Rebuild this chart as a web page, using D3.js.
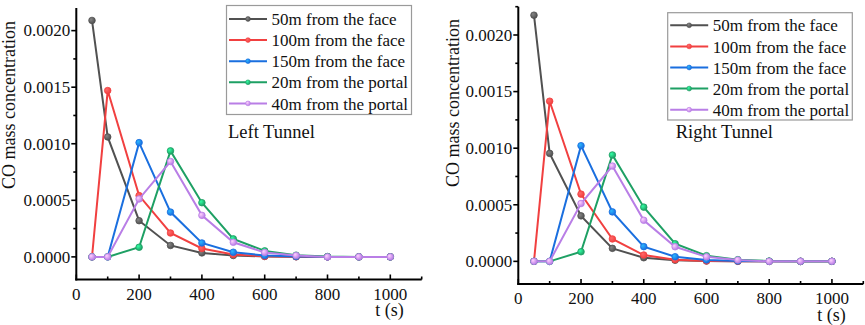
<!DOCTYPE html>
<html>
<head>
<meta charset="utf-8">
<script src="https://cdn.jsdelivr.net/npm/d3@7/dist/d3.min.js"></script>
<style>
  body { margin: 0; background: #fff; }
  svg { display: block; }
  svg text { font-family: "Liberation Serif", "Times New Roman", "DejaVu Serif", serif; fill: #111; }
</style>
</head>
<body>
<svg id="chart" width="865" height="325"></svg>
<script>
// sampling times (s)
var times = [50, 100, 200, 300, 400, 500, 600, 700, 800, 900, 1000]

var seriesNames = ["50m from the face", "100m from the face", "150m from the face", "20m from the portal", "40m from the portal"]
var seriesColors = ["#515151", "#f14040", "#1a6fdf", "#1ea064", "#b97ee6"]

// left tunnel
var face50L = [0.00209, 0.00106, 0.00032, 0.000101, 0.000035, 0.000012, 0.000004, 0.000001, 0, 0, 0]
var face100L = [0, 0.00147, 0.000542, 0.000211, 0.000074, 0.000021, 0.000005, 0.000001, 0, 0, 0]
var face150L = [0, 0, 0.00101, 0.000396, 0.000123, 0.000041, 0.000012, 0.000003, 0, 0, 0]
var portal20L = [0, 0, 0.000085, 0.000937, 0.000479, 0.000159, 0.000053, 0.000015, 0.000003, 0, 0]
var portal40L = [0, 0, 0.000512, 0.000843, 0.000367, 0.000129, 0.000039, 0.000012, 0, 0, 0]

// right tunnel
var face50R = [0.002175, 0.000954, 0.000402, 0.000115, 0.000032, 0.00001, 0.000003, 0.000001, 0, 0, 0]
var face100R = [0, 0.001415, 0.000594, 0.000198, 0.000056, 0.000015, 0.000004, 0.000001, 0, 0, 0]
var face150R = [0, 0, 0.001022, 0.000437, 0.00013, 0.000041, 0.000012, 0.000003, 0, 0, 0]
var portal20R = [0, 0, 0.000085, 0.00094, 0.000479, 0.000156, 0.00005, 0.000015, 0.000003, 0, 0]
var portal40R = [0, 0, 0.000511, 0.000842, 0.000363, 0.000129, 0.00004, 0.000012, 0, 0, 0]

var xTicks = [0, 200, 400, 600, 800, 1000]
var yTicks = [0, 0.0005, 0.001, 0.0015, 0.002]

var svg = d3.select("#chart")

// little shaded balls for the markers
var defs = svg.append("defs")
seriesColors.forEach(function(c, i) {
    var g = defs.append("radialGradient").attr("id", "ball" + i)
        .attr("cx", "35%").attr("cy", "35%").attr("r", "65%")
    g.append("stop").attr("offset", "0%").attr("stop-color", d3.color(c).brighter(1.4))
    g.append("stop").attr("offset", "100%").attr("stop-color", c)
})

function panel(opts) {

    var g = svg.append("g")

    var x = d3.scaleLinear().domain([0, 1100]).range([opts.left, opts.right])
    var y = d3.scaleLinear().domain([-0.0002, opts.yMax]).range([opts.bottom, opts.top])

    // x axis, ticks point inwards
    var xAxis = g.append("g").attr("transform", "translate(0," + opts.bottom + ")")
    xAxis.append("line").attr("x1", opts.left - 1).attr("x2", opts.right)
        .attr("stroke", "#000").attr("stroke-width", 2)
    d3.range(0, 1101, 100).forEach(function(t) {
        var major = t % 200 === 0
        xAxis.append("line").attr("x1", x(t)).attr("x2", x(t))
            .attr("y1", 0).attr("y2", major ? -5 : -3)
            .attr("stroke", "#000").attr("stroke-width", 1.6)
    })
    xAxis.selectAll("text.tick").data(xTicks).join("text")
        .attr("class", "tick")
        .attr("x", d => x(d)).attr("y", 20)
        .attr("text-anchor", "middle").attr("font-size", 17)
        .text(d => d)

    // y axis, ticks point outwards
    var yAxis = g.append("g").attr("transform", "translate(" + opts.left + ",0)")
    yAxis.append("line").attr("y1", opts.top).attr("y2", opts.bottom + 1)
        .attr("stroke", "#000").attr("stroke-width", 2)
    // minor every 0.00025, majors on the 0.0005 steps
    d3.range(0, 10).forEach(function(k) {
        var v = k * 0.00025
        if (v > opts.yMax + 1e-9) return
        var major = k % 2 === 0
        yAxis.append("line").attr("x1", 0).attr("x2", major ? -5 : -3)
            .attr("y1", y(v)).attr("y2", y(v))
            .attr("stroke", "#000").attr("stroke-width", 1.6)
    })
    yAxis.selectAll("text.tick").data(yTicks).join("text")
        .attr("class", "tick")
        .attr("x", -6).attr("y", d => y(d)).attr("dy", "0.34em")
        .attr("text-anchor", "end").attr("font-size", 17)
        .text(d => d.toFixed(4))

    // axis titles
    g.append("text")
        .attr("transform", "translate(" + opts.yTitleX + "," + opts.yTitleY + ") rotate(-90)")
        .attr("text-anchor", "middle").attr("font-size", 18)
        .text("CO mass concentration")

    g.append("text")
        .attr("x", opts.tTitleX).attr("y", opts.tTitleY)
        .attr("text-anchor", "middle").attr("font-size", 18)
        .text("t (s)")

    // series
    var line = d3.line().x(d => x(d[0])).y(d => y(d[1]))

    opts.series.forEach(function(vals, i) {
        var pts = times.map((t, j) => [t, vals[j]])
        g.append("path").datum(pts)
            .attr("d", line)
            .attr("fill", "none")
            .attr("stroke", seriesColors[i])
            .attr("stroke-width", 2)
        g.selectAll("circle.s" + i).data(pts).join("circle")
            .attr("class", "s" + i)
            .attr("cx", d => x(d[0])).attr("cy", d => y(d[1]))
            .attr("r", 3.3)
            .attr("fill", "url(#ball" + i + ")")
            .attr("stroke", seriesColors[i]).attr("stroke-width", 0.8)
    })

    // legend
    var lg = g.append("g")
    lg.append("rect")
        .attr("x", opts.legX).attr("y", opts.legY)
        .attr("width", opts.legW).attr("height", opts.legH)
        .attr("fill", "#fff").attr("stroke", "#9a9a9a").attr("stroke-width", 1.2)

    seriesNames.forEach(function(name, i) {
        var cy = opts.legRow0 + i * 21.1
        lg.append("line")
            .attr("x1", opts.legX + 2.5).attr("x2", opts.legX + 40.5)
            .attr("y1", cy).attr("y2", cy)
            .attr("stroke", seriesColors[i]).attr("stroke-width", 2)
        lg.append("circle")
            .attr("cx", opts.legX + 21.5).attr("cy", cy).attr("r", 2.4)
            .attr("fill", "url(#ball" + i + ")")
            .attr("stroke", seriesColors[i]).attr("stroke-width", 0.6)
        lg.append("text")
            .attr("x", opts.legX + 45).attr("y", cy).attr("dy", "0.36em")
            .attr("font-size", 17)
            .text(name)
    })

    g.append("text")
        .attr("x", opts.labelX).attr("y", opts.labelY)
        .attr("font-size", 18.5)
        .text(opts.label)
}

panel({
    left: 76.3, right: 421.7, top: 8, bottom: 279.5, yMax: 0.0022,
    series: [face50L, face100L, face150L, portal20L, portal40L],
    yTitleX: 15, yTitleY: 105,
    tTitleX: 389.5, tTitleY: 316,
    legX: 226.5, legY: 5.5, legW: 185, legH: 109, legRow0: 19,
    label: "Left Tunnel", labelX: 228, labelY: 138
})

panel({
    left: 518.3, right: 863.3, top: 6.7, bottom: 284, yMax: 0.00225,
    series: [face50R, face100R, face150R, portal20R, portal40R],
    yTitleX: 459, yTitleY: 103,
    tTitleX: 831.5, tTitleY: 321,
    legX: 667.7, legY: 12.7, legW: 184.6, legH: 107.3, legRow0: 25.3,
    label: "Right Tunnel", labelX: 675.7, labelY: 138
})
</script>
</body>
</html>
